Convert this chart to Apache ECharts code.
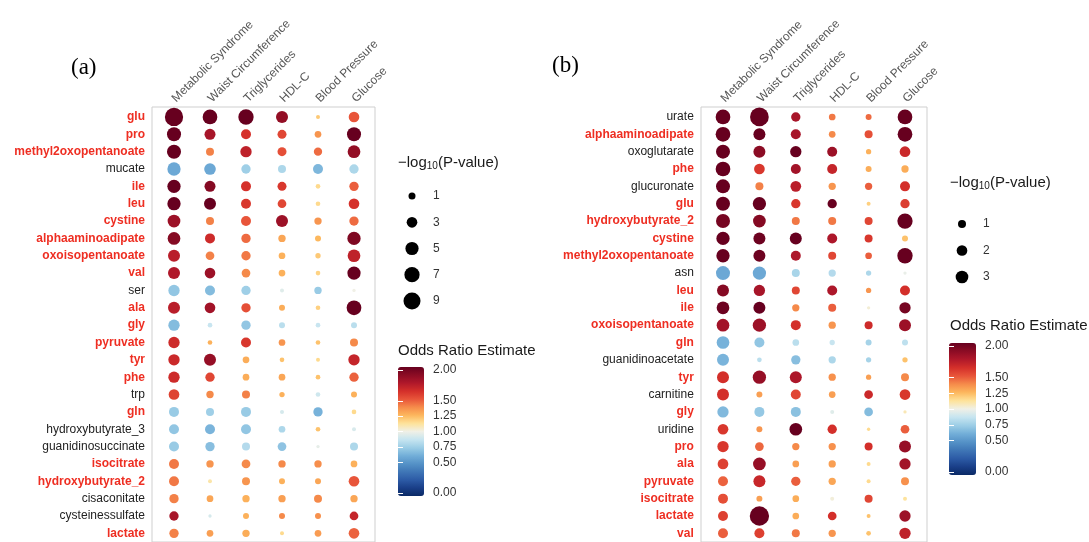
<!DOCTYPE html>
<html>
<head>
<meta charset="utf-8">
<script src="https://cdn.jsdelivr.net/npm/echarts@6/dist/echarts.min.js"></script>
<style>
  html, body { margin: 0; padding: 0; background: #fff; }
  #main { width: 1089px; height: 542px; }
</style>
</head>
<body>
<div id="main"></div>
<script>
var columns = ['Metabolic Syndrome', 'Waist Circumference', 'Triglycerides', 'HDL-C', 'Blood Pressure', 'Glucose'];

// panel (a)
var metabolitesA = ['glu', 'pro', 'methyl2oxopentanoate', 'mucate', 'ile', 'leu', 'cystine', 'alphaaminoadipate',
    'oxoisopentanoate', 'val', 'ser', 'ala', 'gly', 'pyruvate', 'tyr', 'phe', 'trp', 'gln', 'hydroxybutyrate_3',
    'guanidinosuccinate', 'isocitrate', 'hydroxybutyrate_2', 'cisaconitate', 'cysteinessulfate', 'lactate'];
var redA = ['glu', 'pro', 'methyl2oxopentanoate', 'ile', 'leu', 'cystine', 'alphaaminoadipate', 'oxoisopentanoate',
    'val', 'ala', 'gly', 'pyruvate', 'tyr', 'phe', 'gln', 'isocitrate', 'hydroxybutyrate_2', 'lactate'];
// -log10(p), one row per metabolite, columns as above
var pvalA = [
    [10.6, 6.45, 7.1, 4.0, 0.16, 3.0],
    [5.8, 3.24, 2.56, 1.96, 0.88, 5.8],
    [5.8, 1.44, 3.5, 1.96, 1.6, 4.6],
    [5.1, 3.7, 2.15, 1.44, 2.56, 2.15],
    [5.1, 3.24, 2.56, 1.96, 0.28, 2.15],
    [5.1, 4.0, 2.56, 1.8, 0.28, 3.0],
    [4.6, 1.44, 2.56, 4.0, 1.14, 2.15],
    [4.6, 2.56, 2.15, 1.14, 0.64, 5.1],
    [4.0, 1.8, 2.15, 0.88, 0.44, 4.6],
    [4.0, 3.0, 1.8, 0.88, 0.28, 5.1],
    [3.5, 2.56, 2.15, 0.16, 1.14, 0.07],
    [4.0, 3.0, 2.15, 0.64, 0.28, 6.45],
    [3.5, 0.28, 2.15, 0.64, 0.28, 0.64],
    [3.5, 0.28, 2.56, 0.88, 0.28, 1.44],
    [3.5, 4.0, 0.88, 0.28, 0.16, 3.5],
    [3.5, 2.15, 0.88, 0.88, 0.28, 2.15],
    [3.0, 1.14, 1.44, 0.44, 0.28, 0.64],
    [2.56, 1.44, 2.56, 0.16, 2.15, 0.28],
    [2.56, 2.56, 2.56, 0.88, 0.28, 0.16],
    [2.56, 2.15, 1.44, 1.8, 0.07, 1.44],
    [2.56, 1.14, 1.8, 1.14, 1.14, 0.88],
    [2.56, 0.16, 1.44, 0.64, 0.64, 3.0],
    [2.15, 0.88, 1.14, 1.14, 1.44, 1.14],
    [2.15, 0.07, 0.64, 0.64, 0.64, 1.8],
    [2.15, 0.88, 1.14, 0.16, 0.88, 3.0]
];
// odds ratio estimate
var orA = [
    [2.0, 2.0, 2.0, 1.85, 1.2, 1.5],
    [2.0, 1.78, 1.62, 1.55, 1.35, 2.0],
    [2.0, 1.4, 1.7, 1.52, 1.45, 1.85],
    [0.6, 0.6, 0.76, 0.8, 0.66, 0.8],
    [2.0, 1.9, 1.62, 1.6, 1.15, 1.48],
    [2.0, 2.0, 1.6, 1.55, 1.15, 1.62],
    [1.82, 1.4, 1.5, 1.82, 1.35, 1.45],
    [1.9, 1.65, 1.45, 1.3, 1.25, 1.92],
    [1.72, 1.4, 1.42, 1.27, 1.2, 1.7],
    [1.75, 1.82, 1.38, 1.27, 1.17, 2.0],
    [0.72, 0.68, 0.76, 0.95, 0.74, 1.0],
    [1.72, 1.8, 1.52, 1.28, 1.18, 2.0],
    [0.68, 0.88, 0.72, 0.84, 0.88, 0.84],
    [1.65, 1.27, 1.6, 1.35, 1.22, 1.38],
    [1.66, 1.84, 1.28, 1.22, 1.15, 1.68],
    [1.65, 1.55, 1.28, 1.3, 1.22, 1.47],
    [1.56, 1.38, 1.4, 1.27, 0.9, 1.27],
    [0.74, 0.76, 0.74, 0.92, 0.64, 1.15],
    [0.72, 0.65, 0.72, 0.8, 1.22, 0.93],
    [0.74, 0.69, 0.82, 0.71, 0.97, 0.8],
    [1.42, 1.35, 1.38, 1.38, 1.37, 1.27],
    [1.42, 1.1, 1.35, 1.27, 1.3, 1.5],
    [1.4, 1.3, 1.27, 1.32, 1.38, 1.3],
    [1.78, 0.92, 1.27, 1.38, 1.36, 1.68],
    [1.4, 1.32, 1.28, 1.15, 1.33, 1.47]
];

// panel (b)
var metabolitesB = ['urate', 'alphaaminoadipate', 'oxoglutarate', 'phe', 'glucuronate', 'glu', 'hydroxybutyrate_2',
    'cystine', 'methyl2oxopentanoate', 'asn', 'leu', 'ile', 'oxoisopentanoate', 'gln', 'guanidinoacetate', 'tyr',
    'carnitine', 'gly', 'uridine', 'pro', 'ala', 'pyruvate', 'isocitrate', 'lactate', 'val'];
var redB = ['alphaaminoadipate', 'phe', 'glu', 'hydroxybutyrate_2', 'cystine', 'methyl2oxopentanoate', 'leu', 'ile',
    'oxoisopentanoate', 'gln', 'tyr', 'gly', 'pro', 'ala', 'pyruvate', 'isocitrate', 'lactate', 'val'];
var pvalB = [
    [4.19, 7.14, 1.45, 0.63, 0.47, 4.19],
    [4.19, 2.64, 1.72, 0.63, 1.0, 4.19],
    [3.75, 2.64, 2.3, 1.72, 0.33, 2.02],
    [4.19, 2.02, 1.72, 1.72, 0.47, 0.79],
    [3.75, 1.0, 2.02, 0.79, 0.79, 1.72],
    [3.75, 3.34, 1.45, 1.45, 0.14, 1.45],
    [3.75, 3.0, 1.0, 1.0, 1.0, 4.58],
    [3.34, 2.64, 2.64, 1.72, 1.0, 0.47],
    [3.34, 2.64, 1.72, 1.0, 0.63, 4.58],
    [3.75, 3.34, 1.0, 0.79, 0.33, 0.07],
    [2.64, 2.3, 1.0, 1.72, 0.33, 1.72],
    [3.0, 2.64, 0.79, 1.0, 0.07, 2.3],
    [3.0, 3.34, 1.72, 0.79, 1.0, 2.64],
    [3.0, 1.72, 0.63, 0.33, 0.47, 0.47],
    [2.64, 0.23, 1.45, 0.79, 0.33, 0.33],
    [2.64, 3.34, 2.64, 0.79, 0.33, 1.0],
    [2.64, 0.47, 1.72, 0.63, 1.23, 2.02],
    [2.3, 1.72, 1.72, 0.14, 1.23, 0.07],
    [2.02, 0.47, 3.0, 1.45, 0.07, 1.23],
    [2.3, 1.23, 0.79, 0.79, 1.0, 2.64],
    [2.02, 3.0, 0.63, 0.79, 0.14, 2.3],
    [1.72, 2.64, 1.45, 0.79, 0.14, 1.0],
    [1.72, 0.47, 0.63, 0.14, 1.0, 0.14],
    [1.72, 7.65, 0.63, 1.23, 0.14, 2.3],
    [1.72, 1.72, 1.0, 0.79, 0.23, 2.3]
];
var orB = [
    [2.0, 2.0, 1.78, 1.42, 1.45, 2.0],
    [2.0, 2.0, 1.78, 1.38, 1.52, 2.0],
    [2.0, 1.88, 2.0, 1.82, 1.27, 1.66],
    [2.0, 1.6, 1.8, 1.68, 1.28, 1.28],
    [2.0, 1.4, 1.72, 1.35, 1.48, 1.63],
    [2.0, 2.0, 1.6, 2.0, 1.18, 1.58],
    [1.95, 1.9, 1.42, 1.42, 1.55, 2.0],
    [2.0, 1.98, 2.0, 1.76, 1.6, 1.22],
    [2.0, 1.98, 1.76, 1.55, 1.48, 2.0],
    [0.6, 0.6, 0.79, 0.82, 0.8, 0.98],
    [1.9, 1.78, 1.55, 1.76, 1.35, 1.63],
    [1.98, 2.0, 1.38, 1.48, 1.03, 1.95],
    [1.8, 1.82, 1.63, 1.35, 1.65, 1.82],
    [0.64, 0.72, 0.84, 0.88, 0.78, 0.85],
    [0.65, 0.84, 0.69, 0.8, 0.78, 1.22],
    [1.63, 1.84, 1.76, 1.36, 1.32, 1.38],
    [1.63, 1.32, 1.55, 1.32, 1.66, 1.6],
    [0.67, 0.73, 0.7, 0.95, 0.68, 1.08],
    [1.6, 1.35, 2.0, 1.63, 1.15, 1.48],
    [1.6, 1.46, 1.38, 1.36, 1.63, 1.84],
    [1.57, 1.84, 1.32, 1.32, 1.15, 1.8],
    [1.47, 1.67, 1.48, 1.3, 1.15, 1.36],
    [1.52, 1.32, 1.28, 1.02, 1.55, 1.12],
    [1.57, 2.0, 1.28, 1.63, 1.22, 1.82],
    [1.48, 1.57, 1.42, 1.35, 1.22, 1.7]
];

// legend breaks
var sizeBreaksA = [1, 3, 5, 7, 9];
var sizeBreaksB = [1, 2, 3];
var orTicks = [0, 0.5, 0.75, 1, 1.25, 1.5, 2];
var orColors = ['#0a2a66', '#1a3f88', '#2d5ba6', '#3f76b6', '#5592c7', '#72aed8', '#9ccde6', '#c6e5f0', '#f0f0e6',
    '#fee29a', '#fdb85e', '#f68c4b', '#e8553a', '#d4302a', '#b0182a', '#8c0c24', '#67001f'];

var FONT = 'Liberation Sans, Arial, sans-serif';

function sizeA(v) { return 2 + 5 * Math.sqrt(v); }
function sizeB(v) { return 1.6 + 6.4 * Math.sqrt(v); }

function toPoints(pv, or) {
    var res = [];
    for (var i = 0; i < pv.length; i++) {
        for (var j = 0; j < pv[i].length; j++) {
            res.push([j, i, pv[i][j], or[i][j]]);
        }
    }
    return res;
}

function yLabel(red) {
    return {
        fontFamily: FONT,
        margin: 11,
        formatter: function (name) {
            return red.indexOf(name) >= 0 ? '{r|' + name + '}' : '{k|' + name + '}';
        },
        rich: {
            r: { color: '#ee2e22', fontWeight: 'bold', fontSize: 12, fontFamily: FONT },
            k: { color: '#222', fontSize: 12, fontFamily: FONT }
        }
    };
}

function hiddenAxis(grid) {
    return { type: 'value', gridIndex: grid, show: false };
}

function colAxis(grid) {
    return {
        type: 'category', gridIndex: grid, position: 'top', data: columns,
        axisLine: { show: false }, axisTick: { show: false },
        axisLabel: { rotate: -45, align: 'left', verticalAlign: 'middle', interval: 0, margin: 8,
            color: '#555', fontSize: 12, fontFamily: FONT }
    };
}

function barAxis(grid, side, labels) {
    return {
        type: 'value', gridIndex: grid, position: side, min: 0, max: 2, z: 10,
        axisLine: { show: false }, splitLine: { show: false },
        axisTick: { show: true, inside: true, length: 5, customValues: orTicks, lineStyle: { color: '#fff', width: 1 } },
        axisLabel: {
            show: labels, customValues: orTicks, margin: 9, color: '#333', fontSize: 12, fontFamily: FONT,
            formatter: function (v) { return v.toFixed(2); }
        }
    };
}

function sizeLegendY(grid, breaks) {
    return {
        type: 'category', gridIndex: grid, position: 'right', inverse: true, data: breaks.map(String),
        axisLine: { show: false }, axisTick: { show: false },
        axisLabel: { margin: 11, color: '#333', fontSize: 12, fontFamily: FONT }
    };
}

var logTitle = '{n|\u2212log}{s|10}{n|(P-value)}';
var logRich = {
    n: { fontSize: 15, fontWeight: 'normal', color: '#1a1a1a', fontFamily: FONT },
    s: { fontSize: 10, fontWeight: 'normal', color: '#1a1a1a', fontFamily: FONT, padding: [6, 0, 0, 0] }
};
var plainTitle = { fontFamily: FONT, fontWeight: 'normal', fontSize: 15, color: '#1a1a1a' };
var panelTitle = { fontFamily: 'Liberation Serif, serif', fontWeight: 'normal', fontSize: 23, color: '#000' };

var option = {
    animation: false,
    backgroundColor: '#fff',
    title: [
        { text: '(a)', left: 71, top: 56, padding: 0, textStyle: panelTitle },
        { text: '(b)', left: 552, top: 54, padding: 0, textStyle: panelTitle },
        { text: logTitle, left: 398, top: 155, padding: 0, textStyle: { fontWeight: 'normal', rich: logRich } },
        { text: logTitle, left: 950, top: 175, padding: 0, textStyle: { fontWeight: 'normal', rich: logRich } },
        { text: 'Odds Ratio Estimate', left: 398, top: 343, padding: 0, textStyle: plainTitle },
        { text: 'Odds Ratio Estimate', left: 950, top: 318, padding: 0, textStyle: plainTitle }
    ],
    grid: [
        { left: 152, top: 107, width: 223, height: 438, show: true, borderColor: '#cfcfcf', borderWidth: 1, backgroundColor: 'transparent' },
        { left: 156, top: 108.3, width: 216, height: 434.4 },
        { left: 701, top: 107, width: 226, height: 438, show: true, borderColor: '#cfcfcf', borderWidth: 1, backgroundColor: 'transparent' },
        { left: 704.8, top: 108.3, width: 218.4, height: 434.4 },
        { left: 402, top: 183, width: 20, height: 131 },
        { left: 952, top: 210.75, width: 20, height: 79.5 },
        { left: 398, top: 370, width: 26, height: 123 },
        { left: 949, top: 346, width: 27, height: 126 }
    ],
    xAxis: [
        hiddenAxis(0), colAxis(1), hiddenAxis(2), colAxis(3),
        { type: 'category', gridIndex: 4, data: [''], show: false },
        { type: 'category', gridIndex: 5, data: [''], show: false },
        hiddenAxis(6), hiddenAxis(7)
    ],
    yAxis: [
        hiddenAxis(0),
        { type: 'category', gridIndex: 1, inverse: true, data: metabolitesA, axisLine: { show: false }, axisTick: { show: false }, axisLabel: yLabel(redA) },
        hiddenAxis(2),
        { type: 'category', gridIndex: 3, inverse: true, data: metabolitesB, axisLine: { show: false }, axisTick: { show: false }, axisLabel: yLabel(redB) },
        sizeLegendY(4, sizeBreaksA),
        sizeLegendY(5, sizeBreaksB),
        barAxis(6, 'right', true), barAxis(6, 'left', false),
        barAxis(7, 'right', true), barAxis(7, 'left', false)
    ],
    visualMap: [
        { type: 'continuous', seriesIndex: 0, dimension: 3, min: 0, max: 2, calculable: false, hoverLink: false,
          orient: 'vertical', left: 398, top: 367, itemWidth: 26, itemHeight: 129, padding: 0, text: null,
          inRange: { color: orColors } },
        { type: 'continuous', seriesIndex: 1, dimension: 3, min: 0, max: 2, calculable: false, hoverLink: false,
          orient: 'vertical', left: 949, top: 343, itemWidth: 27, itemHeight: 132, padding: 0, text: null,
          inRange: { color: orColors } }
    ],
    series: [
        { type: 'scatter', xAxisIndex: 1, yAxisIndex: 1, data: toPoints(pvalA, orA),
          symbolSize: function (val) { return sizeA(val[2]); }, itemStyle: { opacity: 1 }, silent: true },
        { type: 'scatter', xAxisIndex: 3, yAxisIndex: 3, data: toPoints(pvalB, orB),
          symbolSize: function (val) { return sizeB(val[2]); }, itemStyle: { opacity: 1 }, silent: true },
        { type: 'scatter', xAxisIndex: 4, yAxisIndex: 4,
          data: sizeBreaksA.map(function (v, i) { return [0, i, v]; }),
          symbolSize: function (val) { return sizeA(val[2]); }, itemStyle: { color: '#000', opacity: 1 }, silent: true },
        { type: 'scatter', xAxisIndex: 5, yAxisIndex: 5,
          data: sizeBreaksB.map(function (v, i) { return [0, i, v]; }),
          symbolSize: function (val) { return sizeB(val[2]); }, itemStyle: { color: '#000', opacity: 1 }, silent: true }
    ]
};

var chart = echarts.init(document.getElementById('main'));
chart.setOption(option);
</script>
</body>
</html>
